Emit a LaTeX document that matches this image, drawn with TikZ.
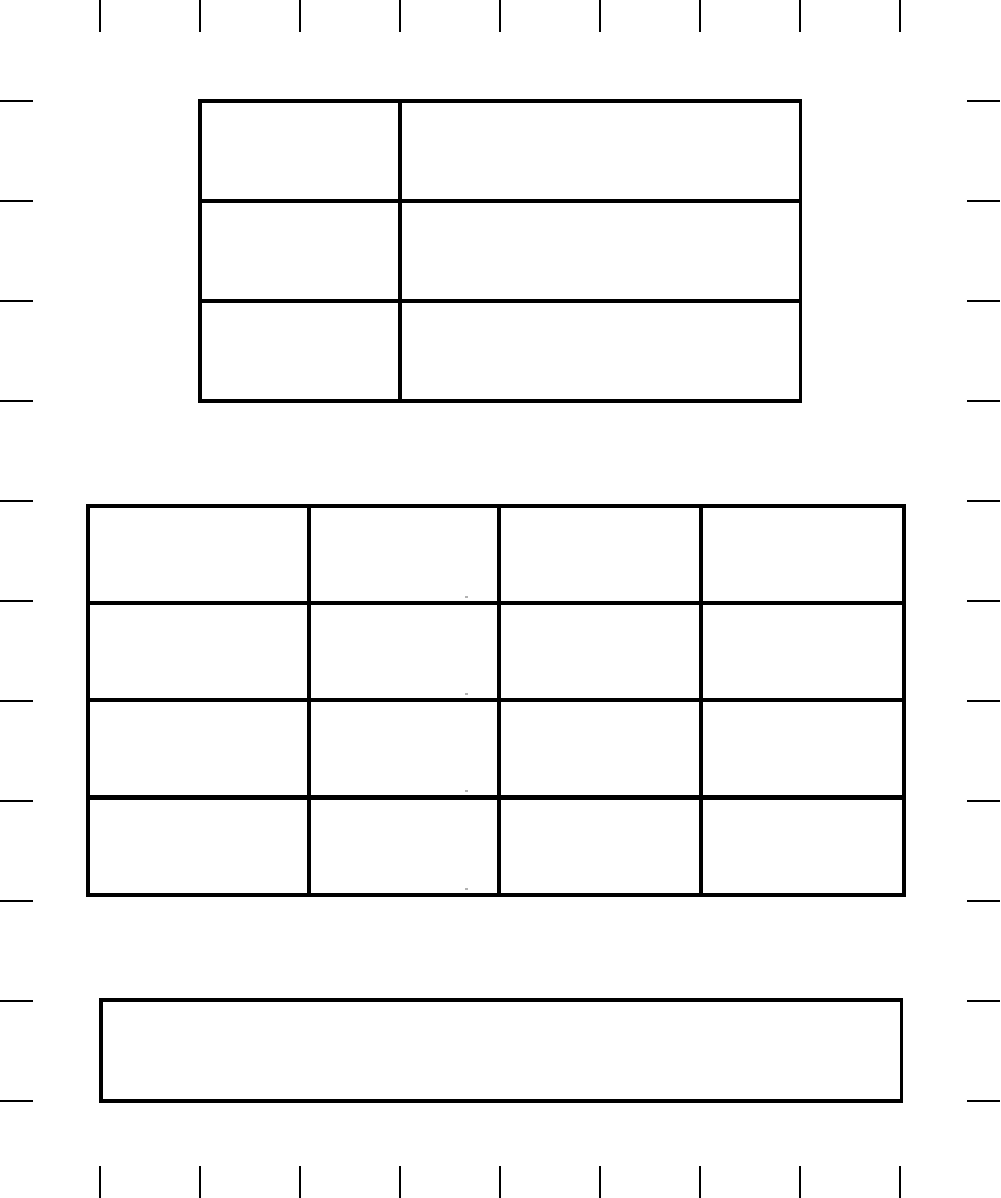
\documentclass[tikz,border=0pt]{standalone}
\usepackage{tikz}
\usetikzlibrary{positioning}
\tikzset{
    tickline/.style={black, line width=0.3pt},
    tablecell/.style={rectangle, draw=black, line width=0.95pt, anchor=north west,
        inner sep=0pt, outer sep=0pt},
    speck/.style={fill=gray!60, draw=none},
}

\begin{document}
\begin{tikzpicture}[x=0.01cm, y=-0.01cm]
    \useasboundingbox (0,0) rectangle (1000,1198);

    % Crop ticks round the page
    \foreach \i in {100,200,...,900} {
        \draw[tickline] (\i,0) -- (\i,32);
        \draw[tickline] (\i,1166) -- (\i,1198);
    }
    \foreach \j in {101,201,...,1101} {
        \draw[tickline] (0,\j) -- (33,\j);
        \draw[tickline] (967,\j) -- (1000,\j);
    }

    % Upper table: three rows, two columns
    \foreach \r/\y in {1/101, 2/201, 3/301} {
        \node[tablecell, minimum width=2cm, minimum height=1cm] (top\r a) at (200,\y) {};
        \node[tablecell, minimum width=4cm, minimum height=1cm] (top\r b) at (400,\y) {};
    }

    % Lower table: four rows, four columns
    \foreach \r/\y in {1/506, 2/603, 3/700, 4/798} {
        \node[tablecell, minimum width=2.21cm, minimum height=0.97cm] (low\r a) at (88,\y) {};
        \node[tablecell, minimum width=1.90cm, minimum height=0.97cm] (low\r b) at (309,\y) {};
        \node[tablecell, minimum width=2.02cm, minimum height=0.97cm] (low\r c) at (499,\y) {};
        \node[tablecell, minimum width=2.03cm, minimum height=0.97cm] (low\r d) at (701,\y) {};
        \fill[speck] ([xshift=-0.34cm, yshift=0.05cm]low\r b.south east) rectangle ++(3,-2);
    }

    % Single box at the foot
    \node[tablecell, minimum width=8cm, minimum height=1.01cm] (foot) at (101,1000) {};
\end{tikzpicture}
\end{document}
